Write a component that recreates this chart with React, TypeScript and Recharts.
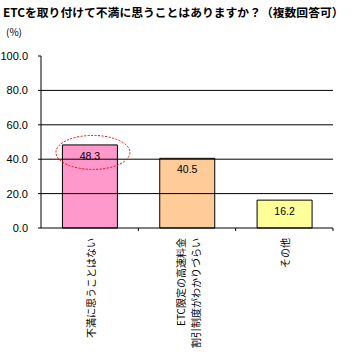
import React from 'react';
import { BarChart, Bar, XAxis, YAxis, ReferenceLine, LabelList, Cell } from 'recharts';

const categories = ['不満に思うことはない', 'ETC限定の高速料金\n割引制度がわかりづらい', 'その他'];
const values = [48.3, 40.5, 16.2];
const barColors = ['#FF99CC', '#FFCC99', '#FFFF99'];
const yTicks = [0, 20, 40, 60, 80, 100];
const gridValues = [20, 40, 60, 80];
const highlightIndex = 0;

const data = categories.map((name, i) => ({ name, value: values[i] }));

const PLOT_LEFT = 41;
const PLOT_RIGHT = 333;
const BAND = (PLOT_RIGHT - PLOT_LEFT) / categories.length;
const JP = '"Noto Sans CJK JP", "Noto Sans", sans-serif';
const NUM = '"Liberation Sans", Arial, sans-serif';

const CategoryTick = (props: any) => {
  const { x, y, payload } = props;
  const lines = String(payload.value).split('\n');
  return (
    <g>
      <line x1={x + BAND / 2} y1={y} x2={x + BAND / 2} y2={y + 3} stroke="#000" />
      <text
        transform={`translate(${x},${y + 10}) rotate(-90)`}
        textAnchor="end"
        dominantBaseline="central"
        fontSize={10}
        fontFamily={JP}
        fill="#000"
      >
        {lines.map((l, i) => (
          <tspan key={i} x={0} y={(i - (lines.length - 1) / 2) * 15}>{l}</tspan>
        ))}
      </text>
    </g>
  );
};

const ValueLabel = (props: any) => {
  const { x, y, width, value, index } = props;
  const cx = x + width / 2;
  return (
    <g>
      <text x={cx} y={y + 11} textAnchor="middle" dominantBaseline="central" fontSize={10.5} fontFamily={NUM} fill="#000">
        {Number(value).toFixed(1)}
      </text>
      {index === highlightIndex && (
        <ellipse cx={cx + 3} cy={y + 7.5} rx={37} ry={17} fill="none" stroke="#FF0000" strokeDasharray="2 1.5" />
      )}
    </g>
  );
};

export default function App() {
  return (
    <div style={{ position: 'absolute', left: 0, top: 0, width: 352, height: 352, background: '#fff', overflow: 'hidden' }}>
      <div style={{ position: 'absolute', left: 3, top: 3, fontFamily: JP, fontWeight: 'bold', fontSize: 11.8, whiteSpace: 'nowrap', lineHeight: '18px' }}>
        ETCを取り付けて不満に思うことはありますか？（複数回答可）
      </div>
      <div style={{ position: 'absolute', left: 6, top: 25, fontFamily: JP, fontSize: 10, lineHeight: '14px' }}>
        (%)
      </div>
      <div style={{ position: 'absolute', left: 0, top: 0 }}>
        <BarChart width={352} height={352} data={data} margin={{ top: 56, right: 19, left: 0, bottom: 0 }} barCategoryGap="22%">
          {gridValues.map((v) => (
            <ReferenceLine key={v} y={v} stroke="#000" strokeWidth={1} />
          ))}
          <XAxis
            dataKey="name"
            interval={0}
            height={124}
            axisLine={{ stroke: '#000' }}
            tickLine={false}
            tickSize={0}
            tickMargin={0}
            tick={<CategoryTick />}
          />
          <YAxis
            width={41}
            domain={[0, 100]}
            ticks={yTicks}
            interval={0}
            axisLine={{ stroke: '#000' }}
            tickLine={{ stroke: '#000' }}
            tickSize={3}
            tickMargin={10}
            tick={{ fontSize: 11, fontFamily: NUM, fill: '#000' }}
            tickFormatter={(v: number) => v.toFixed(1)}
          />
          <Bar dataKey="value" stroke="#000" strokeWidth={1} isAnimationActive={false}>
            {data.map((_, i) => (
              <Cell key={i} fill={barColors[i]} />
            ))}
            <LabelList dataKey="value" content={<ValueLabel />} />
          </Bar>
        </BarChart>
      </div>
    </div>
  );
}
